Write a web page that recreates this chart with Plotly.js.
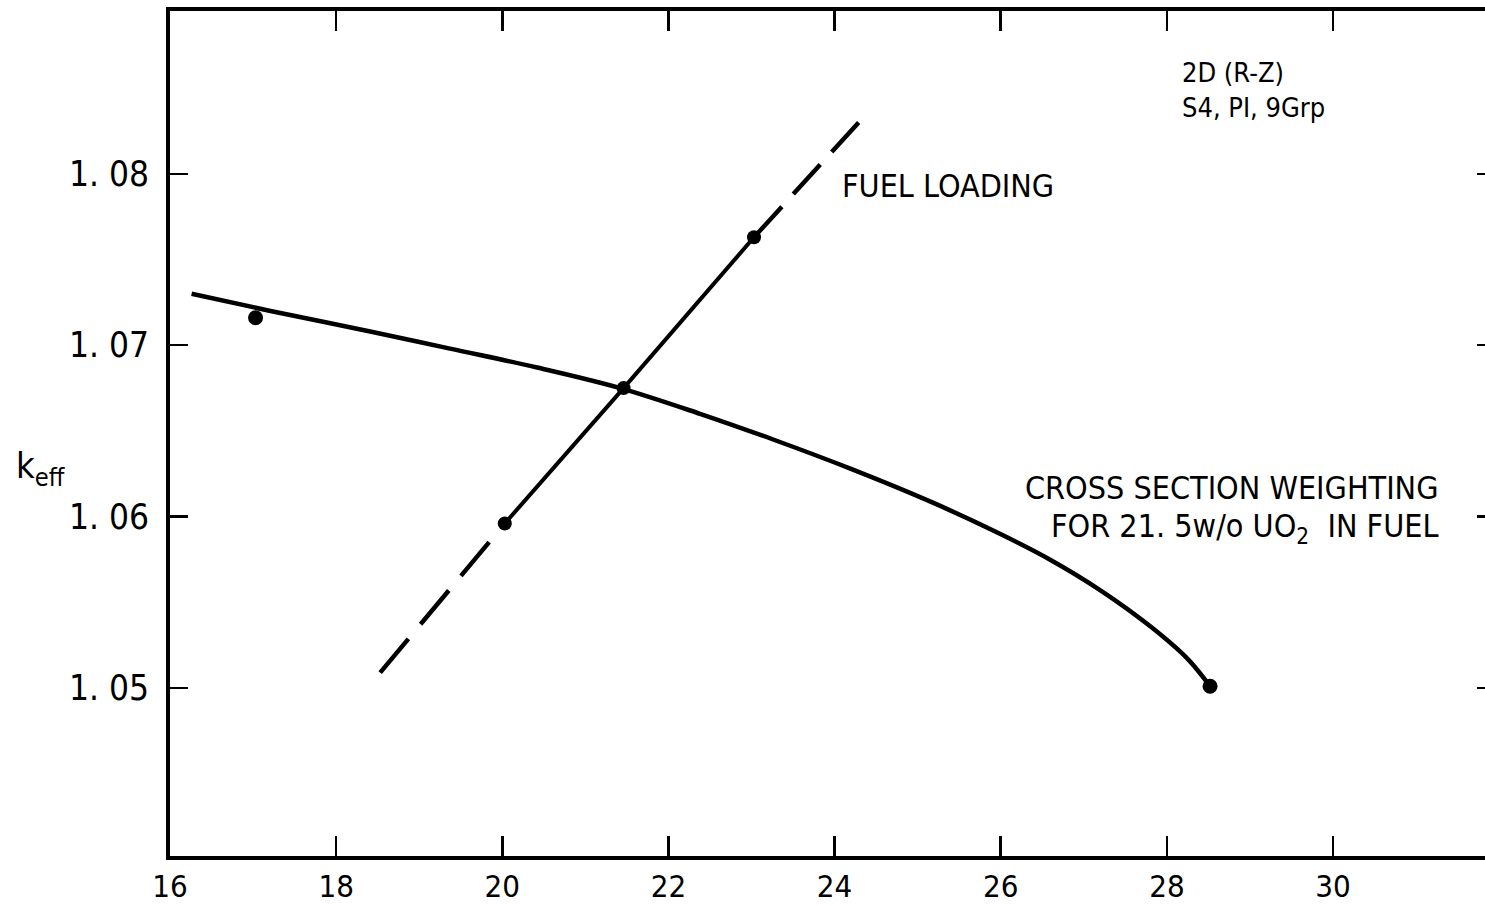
<!DOCTYPE html>
<html>
<head>
<meta charset="utf-8">
<script src="https://cdn.plot.ly/plotly-3.0.1.min.js"></script>
<style>
html,body{margin:0;padding:0;background:#fff;overflow:hidden;}
#chart{width:1495px;height:906px;}
</style>
</head>
<body>
<div id="chart"></div>
<script>
// Cross section weighting curve (21.5 w/o UO2 in fuel)
var xsCurveX = [16.26, 17.21, 18.41, 19.37, 20.42, 21.42, 22.38, 23.26, 24.19, 25.19, 25.99, 26.59, 27.2, 27.8, 28.25, 28.52];
var xsCurveY = [1.0730, 1.0720, 1.0708, 1.0698, 1.0687, 1.0675, 1.0660, 1.0645, 1.0628, 1.0608, 1.0590, 1.0575, 1.0557, 1.0536, 1.0517, 1.0501];
var xsPointX = [17.03, 28.52];
var xsPointY = [1.0716, 1.0501];

// Fuel loading line
var fuelPointX = [20.03, 21.46, 23.03];
var fuelPointY = [1.0596, 1.0675, 1.0763];
var fuelLowX = [18.53, 20.03];
var fuelLowY = [1.0509, 1.0596];
var fuelHighX = [24.29, 23.03];
var fuelHighY = [1.0830, 1.0763];

// Axis ticks
var xTickVals = [16, 18, 20, 22, 24, 26, 28, 30];
var xTickText = ["16", "18", "20", "22", "24", "26", "28", "30"];
var yTickVals = [1.05, 1.06, 1.07, 1.08];
var yTickText = ["1. 05", "1. 06", "1. 07", "1. 08"];

var FONT = "DejaVu Sans Condensed, Liberation Sans Narrow, Liberation Sans, Arial, sans-serif";
var BLACK = "#000";

var traces = [
  {x: xsCurveX, y: xsCurveY, mode: "lines", line: {color: BLACK, width: 4.5, shape: "spline", smoothing: 1.0}, hoverinfo: "skip"},
  {x: xsPointX, y: xsPointY, mode: "markers", marker: {color: BLACK, size: 15, line: {width: 0}}, hoverinfo: "skip"},
  {x: fuelPointX, y: fuelPointY, mode: "lines", line: {color: BLACK, width: 4}, hoverinfo: "skip"},
  {x: fuelLowX, y: fuelLowY, mode: "lines", line: {color: BLACK, width: 4.5, dash: "44px,19px"}, hoverinfo: "skip"},
  {x: fuelHighX, y: fuelHighY, mode: "lines", line: {color: BLACK, width: 4.5, dash: "40px,17px"}, hoverinfo: "skip"},
  {x: fuelPointX, y: fuelPointY, mode: "markers", marker: {color: BLACK, size: 14, opacity: 1, line: {width: 0}}, hoverinfo: "skip"}
];

var ann = function(text, x, y, xanchor, size) {
  return {text: text, x: x, y: y, xref: "x", yref: "y", xanchor: xanchor, yanchor: "middle",
          showarrow: false, font: {family: FONT, size: size, color: BLACK}, align: xanchor};
};

var layout = {
  width: 1495, height: 906,
  margin: {l: 170, r: 0, t: 11, b: 50, pad: 0},
  paper_bgcolor: "#fff", plot_bgcolor: "#fff",
  showlegend: false,
  font: {family: FONT, color: BLACK},
  xaxis: {
    range: [16, 31.95], tickmode: "array", tickvals: xTickVals, ticktext: xTickText,
    ticks: "inside", ticklen: 20, tickwidth: 2.5, tickcolor: BLACK,
    showline: true, linewidth: 4, linecolor: BLACK, mirror: "ticks",
    showgrid: false, zeroline: false,
    tickfont: {family: FONT, size: 31, color: BLACK}, ticklabelstandoff: 0
  },
  yaxis: {
    range: [1.0402, 1.0895], tickmode: "array", tickvals: yTickVals, ticktext: yTickText,
    ticks: "inside", ticklen: 18, tickwidth: 2.5, tickcolor: BLACK,
    showline: true, linewidth: 4, linecolor: BLACK, mirror: "ticks",
    showgrid: false, zeroline: false,
    tickfont: {family: FONT, size: 35, color: BLACK}, ticklabelstandoff: 10
  },
  annotations: [
    ann("2D (R-Z)<br>S4, PI, 9Grp", 28.16, 1.0849, "left", 27),
    ann("FUEL LOADING", 24.07, 1.07929, "left", 32),
    ann("CROSS SECTION WEIGHTING", 31.29, 1.06167, "right", 32),
    ann("FOR 21. 5w/o UO<sub>2</sub>  IN FUEL", 31.29, 1.05935, "right", 32),
    {text: "k<sub>eff</sub>", xref: "paper", yref: "y", x: -0.118, y: 1.0628, xanchor: "left", yanchor: "middle",
     showarrow: false, font: {family: FONT, size: 36, color: BLACK}}
  ]
};

Plotly.newPlot("chart", traces, layout, {staticPlot: true, displayModeBar: false});
</script>
</body>
</html>
